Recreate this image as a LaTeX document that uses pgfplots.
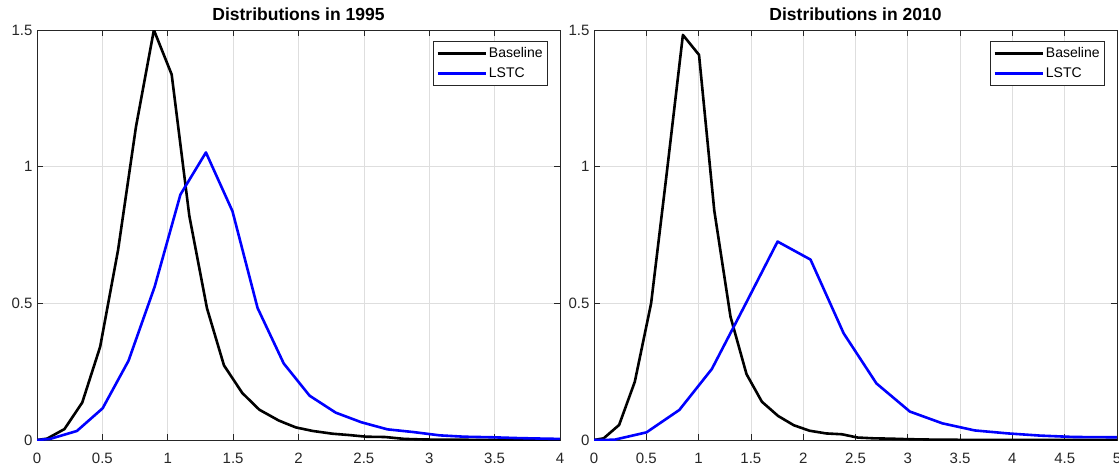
\documentclass[border=0pt]{standalone}
\usepackage{pgfplots}
\pgfplotsset{compat=1.18}
\usepackage{fontspec}
\setmainfont{Liberation Sans}
\definecolor{axc}{rgb}{0.15,0.15,0.15}
\definecolor{gridc}{rgb}{0.87,0.87,0.87}
\pgfplotsset{
  mystyle/.style={
    scale only axis, width=523pt, height=410pt,
    ymin=0, ymax=1.5, ytick={0,0.5,1,1.5},
    grid=major, major grid style={gridc, line width=0.7pt},
    axis line style={axc, line width=0.7pt},
    tick style={axc, line width=0.7pt},
    tick align=inside, major tick length=6pt,
    xtick pos=both, ytick pos=both,
    xticklabel pos=left, yticklabel pos=left,
    ticklabel style={font=\fontsize{15}{17}\selectfont, text=axc},
    xticklabel style={anchor=base, yshift=-23pt},
    yticklabel style={xshift=-1pt},
    /pgf/number format/assume math mode=true,
    /pgf/number format/fixed,
    title style={font=\bfseries\fontsize{17.5}{20}\selectfont, at={(0.5,1)}, anchor=base, yshift=3.5pt},
    legend style={at={(0.977,0.973)}, anchor=north east, draw=axc, line width=0.7pt,
      font=\fontsize{14}{16}\selectfont, inner xsep=3pt, inner ysep=3.2pt, row sep=2.5pt,
      nodes={inner sep=2pt, text height=10.5pt, text depth=3pt}},
    legend cell align=left,
    legend image code/.code={\draw[#1, line width=2.6pt] (0pt,0pt) -- (48pt,0pt);},
    every axis plot/.append style={line width=2.6pt, line join=round},
  }
}
\begin{document}
\begin{tikzpicture}[x=1pt,y=1pt]
\begin{axis}[mystyle, at={(37pt,27pt)}, anchor=south west,
  xmin=0, xmax=4, xtick={0,0.5,...,4}, title={Distributions in 1995}]
\addplot[black] coordinates {
(0,0) (0.077,0.005) (0.21,0.04) (0.346,0.137) (0.483,0.341) (0.62,0.695)
(0.757,1.146) (0.894,1.5) (1.03,1.337) (1.165,0.82) (1.30,0.482) (1.43,0.273)
(1.57,0.172) (1.70,0.111) (1.85,0.071) (1.98,0.046) (2.11,0.033) (2.26,0.023)
(2.39,0.018) (2.52,0.012) (2.66,0.011) (2.81,0.004) (2.95,0.002) (3.1,0.001)
(3.5,0.0005) (4,0)};
\addlegendentry{Baseline}
\addplot[blue] coordinates {
(0,0) (0.1,0.004) (0.305,0.033) (0.502,0.116) (0.70,0.29) (0.90,0.561)
(1.097,0.898) (1.292,1.052) (1.495,0.837) (1.687,0.483) (1.887,0.280)
(2.085,0.162) (2.285,0.100) (2.48,0.065) (2.68,0.039) (2.88,0.029)
(3.08,0.017) (3.27,0.012) (3.48,0.010) (3.68,0.007) (3.88,0.005) (4,0.004)};
\addlegendentry{LSTC}
\end{axis}
\begin{axis}[mystyle, at={(594pt,27pt)}, anchor=south west,
  xmin=0, xmax=5, xtick={0,0.5,...,5}, title={Distributions in 2010}]
\addplot[black] coordinates {
(0,0) (0.092,0.006) (0.24,0.055) (0.39,0.213) (0.546,0.5) (0.695,0.975)
(0.85,1.482) (1.004,1.409) (1.15,0.839) (1.305,0.451) (1.458,0.241)
(1.605,0.140) (1.76,0.088) (1.91,0.054) (2.06,0.034) (2.22,0.024)
(2.37,0.021) (2.52,0.009) (2.68,0.006) (2.83,0.005) (3.0,0.003) (3.3,0.001)
(4,0) (5,0)};
\addlegendentry{Baseline}
\addplot[blue] coordinates {
(0,0) (0.195,0.001) (0.502,0.028) (0.816,0.110) (1.127,0.260) (1.44,0.491)
(1.755,0.726) (2.07,0.660) (2.387,0.390) (2.70,0.207) (3.02,0.104)
(3.33,0.061) (3.64,0.035) (3.96,0.024) (4.27,0.016) (4.59,0.011) (5,0.01)};
\addlegendentry{LSTC}
\end{axis}
\pgfresetboundingbox
\path[use as bounding box] (0,0) rectangle (1119pt,467pt);
\end{tikzpicture}
\end{document}
